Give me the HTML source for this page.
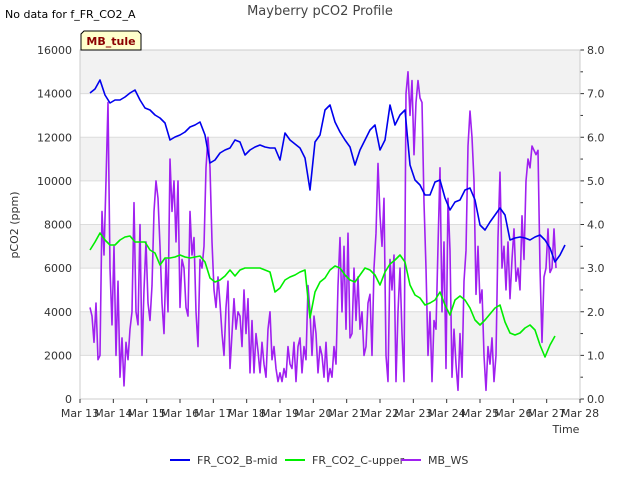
<!DOCTYPE html>
<html><head><meta charset="utf-8"><style>
body{margin:0;background:#fff;font-family:"Liberation Sans","DejaVu Sans",sans-serif}
svg text{font-family:"DejaVu Sans","Liberation Sans",sans-serif}
</style></head><body>
<svg id="chart" width="640" height="480" xmlns="http://www.w3.org/2000/svg">
<text x="5" y="18" font-size="11" fill="#000">No data for f_FR_CO2_A</text>
<text x="320" y="15" font-size="13" text-anchor="middle" fill="#444">Mayberry pCO2 Profile</text>
<g id="plot"></g>
<text transform="translate(18,225) rotate(-90)" font-size="11" text-anchor="middle" fill="#333">pCO2 (ppm)</text>
<text x="566" y="433" font-size="11" text-anchor="middle" fill="#333">Time</text>
<g>
<path d="M84,31 L138,31 L141,34 L141,50 L81,50 L81,34 Z" fill="#ffffcc" stroke="#000" stroke-width="1"/>
<text x="111" y="45" font-size="11" font-weight="bold" text-anchor="middle" fill="#8b0000">MB_tule</text>
</g>
<g>
<g><line x1="170" y1="460" x2="190" y2="460" stroke="#0000ee" stroke-width="2"/><text x="197" y="464" font-size="11" fill="#333">FR_CO2_B-mid</text></g>
<g><line x1="285" y1="460" x2="305" y2="460" stroke="#00ee00" stroke-width="2"/><text x="312" y="464" font-size="11" fill="#333">FR_CO2_C-upper</text></g>
<g><line x1="401" y1="460" x2="421" y2="460" stroke="#a020f0" stroke-width="2"/><text x="428" y="464" font-size="11" fill="#333">MB_WS</text></g>
</g>
</svg>
<script>
const xTickLabels=["Mar 13","Mar 14","Mar 15","Mar 16","Mar 17","Mar 18","Mar 19","Mar 20","Mar 21","Mar 22","Mar 23","Mar 24","Mar 25","Mar 26","Mar 27","Mar 28"];
const leftTicks=[0,2000,4000,6000,8000,10000,12000,14000,16000];
const rightTicks=[0,1,2,3,4,5,6,7,8];
const bStart=0.3, bStep=0.15;
const bMid=[14030,14214,14626,13939,13572,13709,13709,13847,14030,14168,13709,13343,13251,13022,12884,12655,11875,12013,12104,12242,12471,12563,12700,12104,10820,10958,11279,11417,11508,11875,11783,11187,11417,11554,11646,11554,11508,11508,10958,12196,11875,11692,11508,11050,9582,11783,12104,13251,13480,12700,12242,11875,11554,10729,11417,11875,12333,12563,11417,11875,13480,12563,13022,13251,10729,10041,9812,9353,9353,9949,10041,9216,8666,9032,9124,9582,9674,9124,7978,7749,8115,8436,8757,8436,7290,7382,7428,7382,7290,7428,7519,7290,6923,6281,6602,7061];
const cStart=0.3, cStep=0.15;
const cUpper=[6832,7198,7611,7290,7061,7061,7290,7428,7474,7198,7198,7198,6832,6694,6144,6465,6465,6511,6602,6511,6465,6511,6557,6281,5548,5364,5456,5640,5915,5640,5915,6006,6006,6006,6006,5915,5823,4906,5089,5456,5594,5685,5823,5915,3714,4906,5364,5548,5915,6098,6006,5685,5456,5364,5685,6006,5915,5685,5227,5823,6190,6373,6602,6281,5227,4768,4631,4310,4402,4539,4906,4310,3852,4539,4723,4539,4172,3622,3393,3622,3897,4172,4310,3530,3026,2934,3026,3255,3393,3164,2476,1926,2476,2889];
const wStart=0.3, wStep=0.06;
const mbWs=[2.1,1.9,1.3,2.2,0.9,1.0,4.3,3.3,5.0,6.8,3.0,1.7,3.5,1.0,2.7,0.5,1.4,0.3,1.3,0.9,1.6,2.0,4.5,2.0,1.7,4.0,1.0,2.5,3.6,2.2,1.8,2.6,4.3,5.0,4.6,3.5,2.2,1.5,3.2,2.0,5.5,4.3,5.0,3.6,5.0,2.1,3.2,3.0,2.1,1.9,4.3,3.3,3.7,2.0,1.2,3.2,3.0,3.5,5.3,6.0,5.3,3.6,2.5,2.1,2.8,2.2,1.5,1.0,2.1,2.7,0.7,1.5,2.3,1.6,2.0,1.9,1.2,2.5,1.5,2.3,0.6,1.8,0.6,1.5,1.1,0.6,1.3,0.8,0.5,1.6,2.0,0.9,1.2,0.7,0.4,0.6,0.4,0.7,0.5,1.2,0.8,0.7,1.3,0.4,1.2,1.4,0.6,1.2,0.9,2.6,2.0,1.0,1.9,1.5,0.6,1.2,1.0,0.5,1.3,0.4,0.7,0.5,1.2,0.8,2.6,3.7,2.0,3.5,1.6,3.8,1.4,1.5,3.0,1.8,2.8,1.6,2.0,1.0,1.2,2.2,2.4,1.0,3.0,3.8,5.4,4.2,3.5,4.6,1.0,0.4,3.2,2.5,3.3,0.4,2.0,3.0,1.5,0.4,7.0,7.5,6.5,7.3,5.6,6.8,7.3,6.9,6.8,4.5,3.0,1.0,2.0,0.4,1.8,1.6,3.5,5.3,2.0,3.6,0.7,4.6,3.4,0.5,1.6,0.8,0.2,1.5,0.5,2.7,3.4,5.8,6.6,6.0,5.0,2.4,3.5,2.2,2.5,1.0,0.2,1.2,0.8,1.4,0.4,1.0,3.7,5.2,3.0,3.5,2.5,3.6,2.3,3.2,3.9,2.7,3.0,2.5,4.2,3.2,5.0,5.5,5.3,5.8,5.7,5.6,5.7,3.0,1.3,2.8,3.0,3.9,2.9,3.0,3.9,3.0];

const X0=80,X1=580,Y0=399,Y1=50;
const xs=d=>X0+d*(X1-X0)/15;
const yl=v=>Y0-v*(Y0-Y1)/16000;
const yr=v=>Y0-v*(Y0-Y1)/8;
const NS="http://www.w3.org/2000/svg";
const plot=document.getElementById('plot');
function mk(tag,attrs,parent){const e=document.createElementNS(NS,tag);for(const k in attrs)e.setAttribute(k,attrs[k]);(parent||plot).appendChild(e);return e;}
// bands
for(let i=0;i<leftTicks.length-1;i++){
  if(i%2===1){const b=mk('rect',{x:X0,y:yl(leftTicks[i+1]),width:X1-X0,height:yl(leftTicks[i])-yl(leftTicks[i+1]),fill:'#f2f2f2'});
  
  }
}
leftTicks.forEach(v=>{
  const g=mk('line',{x1:X0,x2:X1,y1:yl(v),y2:yl(v),stroke:'#dcdcdc','stroke-width':1});
  
  
  const t=mk('text',{x:X0-8,y:yl(v)+4,'font-size':11,'text-anchor':'end',fill:'#333'});
  t.textContent=v;
  
  
});
rightTicks.forEach(v=>{
  const t=mk('text',{x:X1+7,y:yr(v)+4,'font-size':11,fill:'#333'});
  t.textContent=v.toFixed(1);
  
  
  mk('line',{x1:X1,x2:X1+4,y1:yr(v),y2:yr(v),stroke:'#333'});
  if(v<8)mk('line',{x1:X1,x2:X1+3,y1:yr(v+0.5),y2:yr(v+0.5),stroke:'#333'});
});
mk('rect',{x:X0,y:Y1,width:X1-X0,height:Y0-Y1,fill:'none',stroke:'#ccc'});
xTickLabels.forEach((l,i)=>{
  mk('line',{x1:xs(i),x2:xs(i),y1:Y0,y2:Y0+4,stroke:'#333'});
  const t=mk('text',{x:xs(i),y:Y0+18,'font-size':11,'text-anchor':'middle',fill:'#333'});
  t.textContent=l;
  
  
});
function line(vals,start,step,yf,color,name){
  const d=vals.map((v,i)=>(i?'L':'M')+xs(start+i*step).toFixed(1)+','+yf(v).toFixed(1)).join('');
  const p=mk('path',{d:d,fill:'none',stroke:color,'stroke-width':1.6,'stroke-linejoin':'round'});
  
  
}
line(mbWs,wStart,wStep,yr,'#a020f0','series-mb-ws');
line(bMid,bStart,bStep,yl,'#0000ee','series-fr-co2-b-mid');
line(cUpper,cStart,cStep,yl,'#00ee00','series-fr-co2-c-upper');
</script>
</body></html>
